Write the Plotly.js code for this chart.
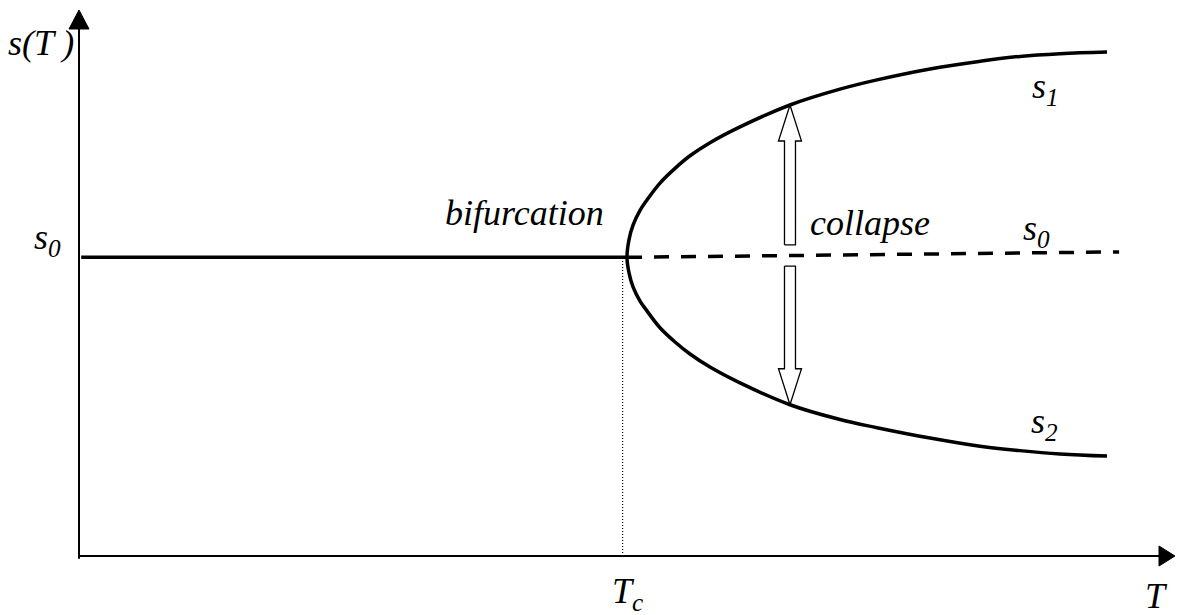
<!DOCTYPE html>
<html>
<head>
<meta charset="utf-8">
<script src="https://cdn.plot.ly/plotly-3.0.1.min.js"></script>
<style>
  html, body { margin: 0; padding: 0; background: #fff; }
  #chart { width: 1177px; height: 615px; }
</style>
</head>
<body>
<div id="chart"></div>
<script>
// ---- data (arbitrary units) ----
const s0 = 5.47;                 // symmetric state level
const Tc = 4.96;                 // critical temperature (dotted marker)
const stableT = [0.02, 5.0];     // solid s0 branch (T < Tc)
const stableS = [5.47, 5.47];
const unstableT = [5.0, 9.49];   // dashed s0 branch (T > Tc)
const unstableS = [5.47, 5.57];
const branchT = [5.000, 5.018, 5.055, 5.119, 5.182, 5.301, 5.438, 5.575, 5.757,
                 6.031, 6.487, 6.943, 7.281, 7.765, 8.221, 8.586, 8.951, 9.380];
const s1Values = [5.47, 5.79, 6.06, 6.33, 6.52, 6.83, 7.10, 7.33, 7.57,
                  7.86, 8.26, 8.55, 8.72, 8.92, 9.06, 9.15, 9.20, 9.23];
const s2Values = [5.47, 5.19, 4.93, 4.67, 4.49, 4.18, 3.92, 3.70, 3.46,
                  3.17, 2.77, 2.50, 2.35, 2.16, 2.01, 1.93, 1.87, 1.83];
const collapseIndex = 10;        // T where the collapse arrows are drawn
const collapseFrom = [5.70, 5.31]; // arrow start levels (up, down)

// ---- geometry helpers ----
const W = 1177, H = 615;
const margin = {l: 79, r: 2, t: 10, b: 59, pad: 0};
const xRange = [0, 10], yRange = [0, 10];
const plotW = W - margin.l - margin.r, plotH = H - margin.t - margin.b;
const kx = plotW / (xRange[1] - xRange[0]);
const ky = plotH / (yRange[1] - yRange[0]);

function blockArrow(T, sFrom, sTo) {
  const dir = Math.sign(sTo - sFrom);
  const shaft = 5.5 / kx, head = 11.5 / kx, headLen = 36 / ky;
  const sb = sTo - dir * headLen;
  return {
    x: [T - shaft, T - shaft, T - head, T, T + head, T + shaft, T + shaft, T - shaft],
    y: [sFrom, sb, sb, sTo, sb, sb, sFrom, sFrom]
  };
}

const branchX = branchT.slice().reverse().concat(branchT.slice(1));
const branchY = s1Values.slice().reverse().concat(s2Values.slice(1));

const aT = branchT[collapseIndex];
const upArrow = blockArrow(aT, collapseFrom[0], s1Values[collapseIndex]);
const downArrow = blockArrow(aT, collapseFrom[1], s2Values[collapseIndex]);

const traces = [
  {x: [Tc, Tc], y: [yRange[0], s0], mode: 'lines',
   line: {color: '#000', width: 1.2, dash: '1px,2px'}},
  {x: stableT, y: stableS, mode: 'lines', line: {color: '#000', width: 3.5}},
  {x: unstableT, y: unstableS, mode: 'lines',
   line: {color: '#000', width: 3.5, dash: '15px,12px'}},
  {x: branchX, y: branchY, mode: 'lines',
   line: {color: '#000', width: 3.5, shape: 'spline', smoothing: 1.1}},
  {x: upArrow.x, y: upArrow.y, mode: 'lines', fill: 'toself', fillcolor: '#fff',
   line: {color: '#000', width: 1.3}},
  {x: downArrow.x, y: downArrow.y, mode: 'lines', fill: 'toself', fillcolor: '#fff',
   line: {color: '#000', width: 1.3}}
];

const FONT = {family: 'Liberation Serif, Times New Roman, serif', size: 36, color: '#000'};
// positions in paper units (0..1 over the plot area)
function label(text, x, y) {
  return {text: '<i>' + text + '</i>', x: x, y: y, xref: 'paper', yref: 'paper',
          xanchor: 'center', yanchor: 'middle', showarrow: false, font: FONT};
}

const layout = {
  width: W, height: H, margin: margin,
  paper_bgcolor: '#fff', plot_bgcolor: '#fff', showlegend: false,
  font: FONT,
  xaxis: {range: xRange, visible: false, fixedrange: true},
  yaxis: {range: yRange, visible: false, fixedrange: true},
  shapes: [
    {type: 'line', xref: 'paper', yref: 'paper', x0: 0, y0: -0.005, x1: 0, y1: 0.97,
     line: {color: '#000', width: 2}},
    {type: 'line', xref: 'paper', yref: 'paper', x0: 0, y0: 0, x1: 0.99, y1: 0,
     line: {color: '#000', width: 2}},
    {type: 'path', xref: 'paper', yref: 'paper', fillcolor: '#000',
     line: {color: '#000', width: 1},
     path: 'M ' + (-10 / plotW) + ' ' + (1 - 19 / plotH) + ' L 0 1 L ' + (10 / plotW) + ' ' + (1 - 19 / plotH) + ' Z'},
    {type: 'path', xref: 'paper', yref: 'paper', fillcolor: '#000',
     line: {color: '#000', width: 1},
     path: 'M ' + (1 - 16 / plotW) + ' ' + (10 / plotH) + ' L 1 0 L ' + (1 - 16 / plotW) + ' ' + (-10 / plotH) + ' Z'}
  ],
  annotations: [
    label('s(T )', -0.0347, 0.940),
    label('s<sub>0</sub>', -0.0283, 0.579),
    label('bifurcation', 0.4069, 0.628),
    label('collapse', 0.7217, 0.610),
    label('s<sub>0</sub>', 0.8732, 0.597),
    label('s<sub>1</sub>', 0.8814, 0.857),
    label('s<sub>2</sub>', 0.8805, 0.242),
    label('T<sub>c</sub>', 0.500, -0.068),
    label('T', 0.9827, -0.074)
  ]
};

Plotly.newPlot('chart', traces, layout, {displayModeBar: false, staticPlot: true});
</script>
</body>
</html>
